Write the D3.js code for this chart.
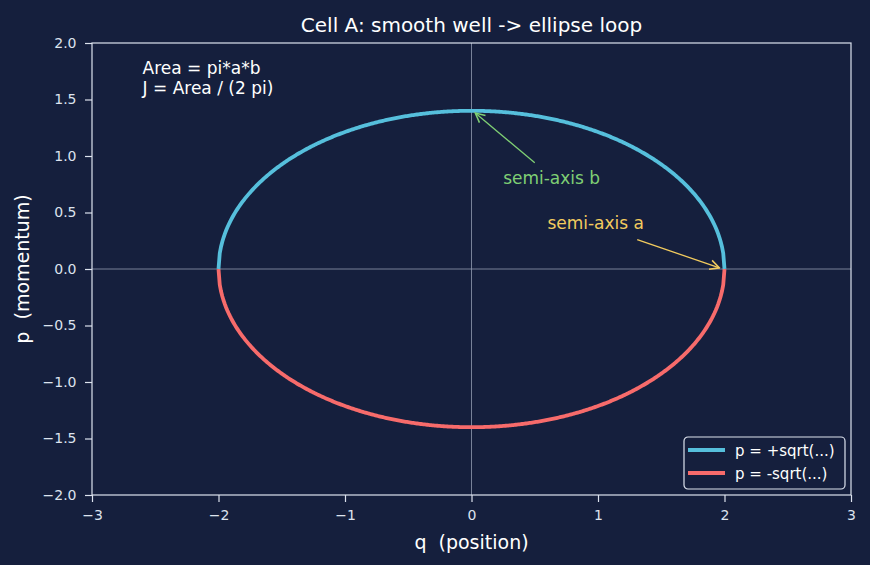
<!DOCTYPE html>
<html>
<head>
<meta charset="utf-8">
<script src="https://cdn.jsdelivr.net/npm/d3@7"></script>
<style>
  body { margin: 0; background: #151f3d; }
  svg { display: block; font-family: "DejaVu Sans", sans-serif; }
  text { white-space: pre; }
</style>
</head>
<body>
<div id="chart"></div>
<script>
// ellipse parameters
const semiA = 2.0;
const semiB = 1.4;
const xTicks = [-3, -2, -1, 0, 1, 2, 3];
const yTicks = [-2.0, -1.5, -1.0, -0.5, 0.0, 0.5, 1.0, 1.5, 2.0];
const seriesNames = ["p = +sqrt(...)", "p = -sqrt(...)"];
const seriesColors = ["#56bfdc", "#f76b6b"];

const W = 870, H = 565;
const margin = {top: 43, right: 19, bottom: 70, left: 92};
const width = W - margin.left - margin.right;
const height = H - margin.top - margin.bottom;
const fg = "#dde3ee";

const svg = d3.select("#chart").append("svg")
    .attr("width", W)
    .attr("height", H);

svg.append("rect").attr("width", W).attr("height", H).attr("fill", "#151f3d");

const g = svg.append("g")
    .attr("transform", `translate(${margin.left},${margin.top})`);

const x = d3.scaleLinear().domain([-3, 3]).range([0, width]);
const y = d3.scaleLinear().domain([-2, 2]).range([height, 0]);

// zero lines
g.append("line")
    .attr("x1", x(0)).attr("x2", x(0)).attr("y1", 0).attr("y2", height)
    .attr("stroke", "#9aa3b8").attr("stroke-width", 1).attr("opacity", 0.75);
g.append("line")
    .attr("x1", 0).attr("x2", width).attr("y1", y(0)).attr("y2", y(0))
    .attr("stroke", "#9aa3b8").attr("stroke-width", 1).attr("opacity", 0.75);

// upper and lower halves, sampled over q
const qs = d3.range(0, 401).map(i => -semiA + (2 * semiA) * i / 400);
const upper = qs.map(q => [q, semiB * Math.sqrt(Math.max(0, 1 - (q / semiA) ** 2))]);
const lower = qs.map(q => [q, -semiB * Math.sqrt(Math.max(0, 1 - (q / semiA) ** 2))]);

const line = d3.line().x(d => x(d[0])).y(d => y(d[1]));

g.append("path").datum(lower)
    .attr("d", line).attr("fill", "none")
    .attr("stroke", seriesColors[1]).attr("stroke-width", 3.8);
g.append("path").datum(upper)
    .attr("d", line).attr("fill", "none")
    .attr("stroke", seriesColors[0]).attr("stroke-width", 3.8);

// axes
const xAxis = g.append("g")
    .attr("transform", `translate(0,${height})`)
    .call(d3.axisBottom(x).tickValues(xTicks).tickSize(7).tickPadding(8.5)
        .tickFormat(d => d < 0 ? "\u2212" + Math.abs(d) : d));
const yAxis = g.append("g")
    .call(d3.axisLeft(y).tickValues(yTicks).tickSize(7).tickPadding(8.5)
        .tickFormat(d => (d < 0 ? "\u2212" : "") + Math.abs(d).toFixed(1)));

[xAxis, yAxis].forEach(ax => {
    ax.select(".domain").remove();
    ax.selectAll("line").attr("stroke", fg).attr("stroke-width", 1.2);
    ax.selectAll("text").attr("fill", fg).style("font-size", "14px")
        .style("font-family", "DejaVu Sans");
});

// frame
g.append("rect")
    .attr("width", width).attr("height", height)
    .attr("fill", "none").attr("stroke", fg).attr("stroke-width", 1.2);

// titles
svg.append("text")
    .attr("x", margin.left + width / 2).attr("y", 32)
    .attr("text-anchor", "middle").attr("fill", "#ffffff")
    .style("font-size", "20px")
    .text("Cell A: smooth well -> ellipse loop");
svg.append("text")
    .attr("x", margin.left + width / 2).attr("y", 549)
    .attr("text-anchor", "middle").attr("fill", "#ffffff")
    .style("font-size", "19px")
    .text("q  (position)");
svg.append("text")
    .attr("transform", `translate(29,${margin.top + height / 2}) rotate(-90)`)
    .attr("text-anchor", "middle").attr("fill", "#ffffff")
    .style("font-size", "19px")
    .text("p  (momentum)");

// area note
const note = g.append("text").attr("fill", "#ffffff").style("font-size", "17px");
note.append("tspan").attr("x", x(-2.6)).attr("y", 31).text("Area = pi*a*b");
note.append("tspan").attr("x", x(-2.6)).attr("y", 51).text("J = Area / (2 pi)");

// annotations with arrows
const defs = svg.append("defs");
function marker(id, color) {
    defs.append("marker")
        .attr("id", id).attr("viewBox", "0 0 10 10")
        .attr("refX", 9).attr("refY", 5)
        .attr("markerWidth", 9).attr("markerHeight", 9)
        .attr("orient", "auto")
        .append("path").attr("d", "M1,1 L9,5 L1,9")
        .attr("fill", "none").attr("stroke", color).attr("stroke-width", 1.3);
}
marker("arrB", "#7fcf74");
marker("arrA", "#f2cb5e");

g.append("text").attr("x", x(0.25)).attr("y", y(0.75))
    .attr("fill", "#7fcf74").style("font-size", "17px").text("semi-axis b");
g.append("line")
    .attr("x1", x(0.5)).attr("y1", y(0.94))
    .attr("x2", x(0.03)).attr("y2", y(1.38))
    .attr("stroke", "#7fcf74").attr("stroke-width", 1.3)
    .attr("marker-end", "url(#arrB)");

g.append("text").attr("x", x(0.6)).attr("y", y(0.35))
    .attr("fill", "#f2cb5e").style("font-size", "17px").text("semi-axis a");
g.append("line")
    .attr("x1", x(1.31)).attr("y1", y(0.26))
    .attr("x2", x(1.96)).attr("y2", y(0.01))
    .attr("stroke", "#f2cb5e").attr("stroke-width", 1.3)
    .attr("marker-end", "url(#arrA)");

// legend
const lg = g.append("g").attr("transform", `translate(${width - 167},${height - 58})`);
lg.append("rect").attr("width", 161).attr("height", 52).attr("rx", 4)
    .attr("fill", "#151f3d").attr("stroke", fg).attr("stroke-width", 1.2);
seriesNames.forEach((name, i) => {
    lg.append("line")
        .attr("x1", 4).attr("x2", 41).attr("y1", 13 + i * 23).attr("y2", 13 + i * 23)
        .attr("stroke", seriesColors[i]).attr("stroke-width", 3.8);
    lg.append("text").attr("x", 51).attr("y", 18.5 + i * 23)
        .attr("fill", "#ffffff").style("font-size", "15px").text(name);
});
</script>
</body>
</html>
